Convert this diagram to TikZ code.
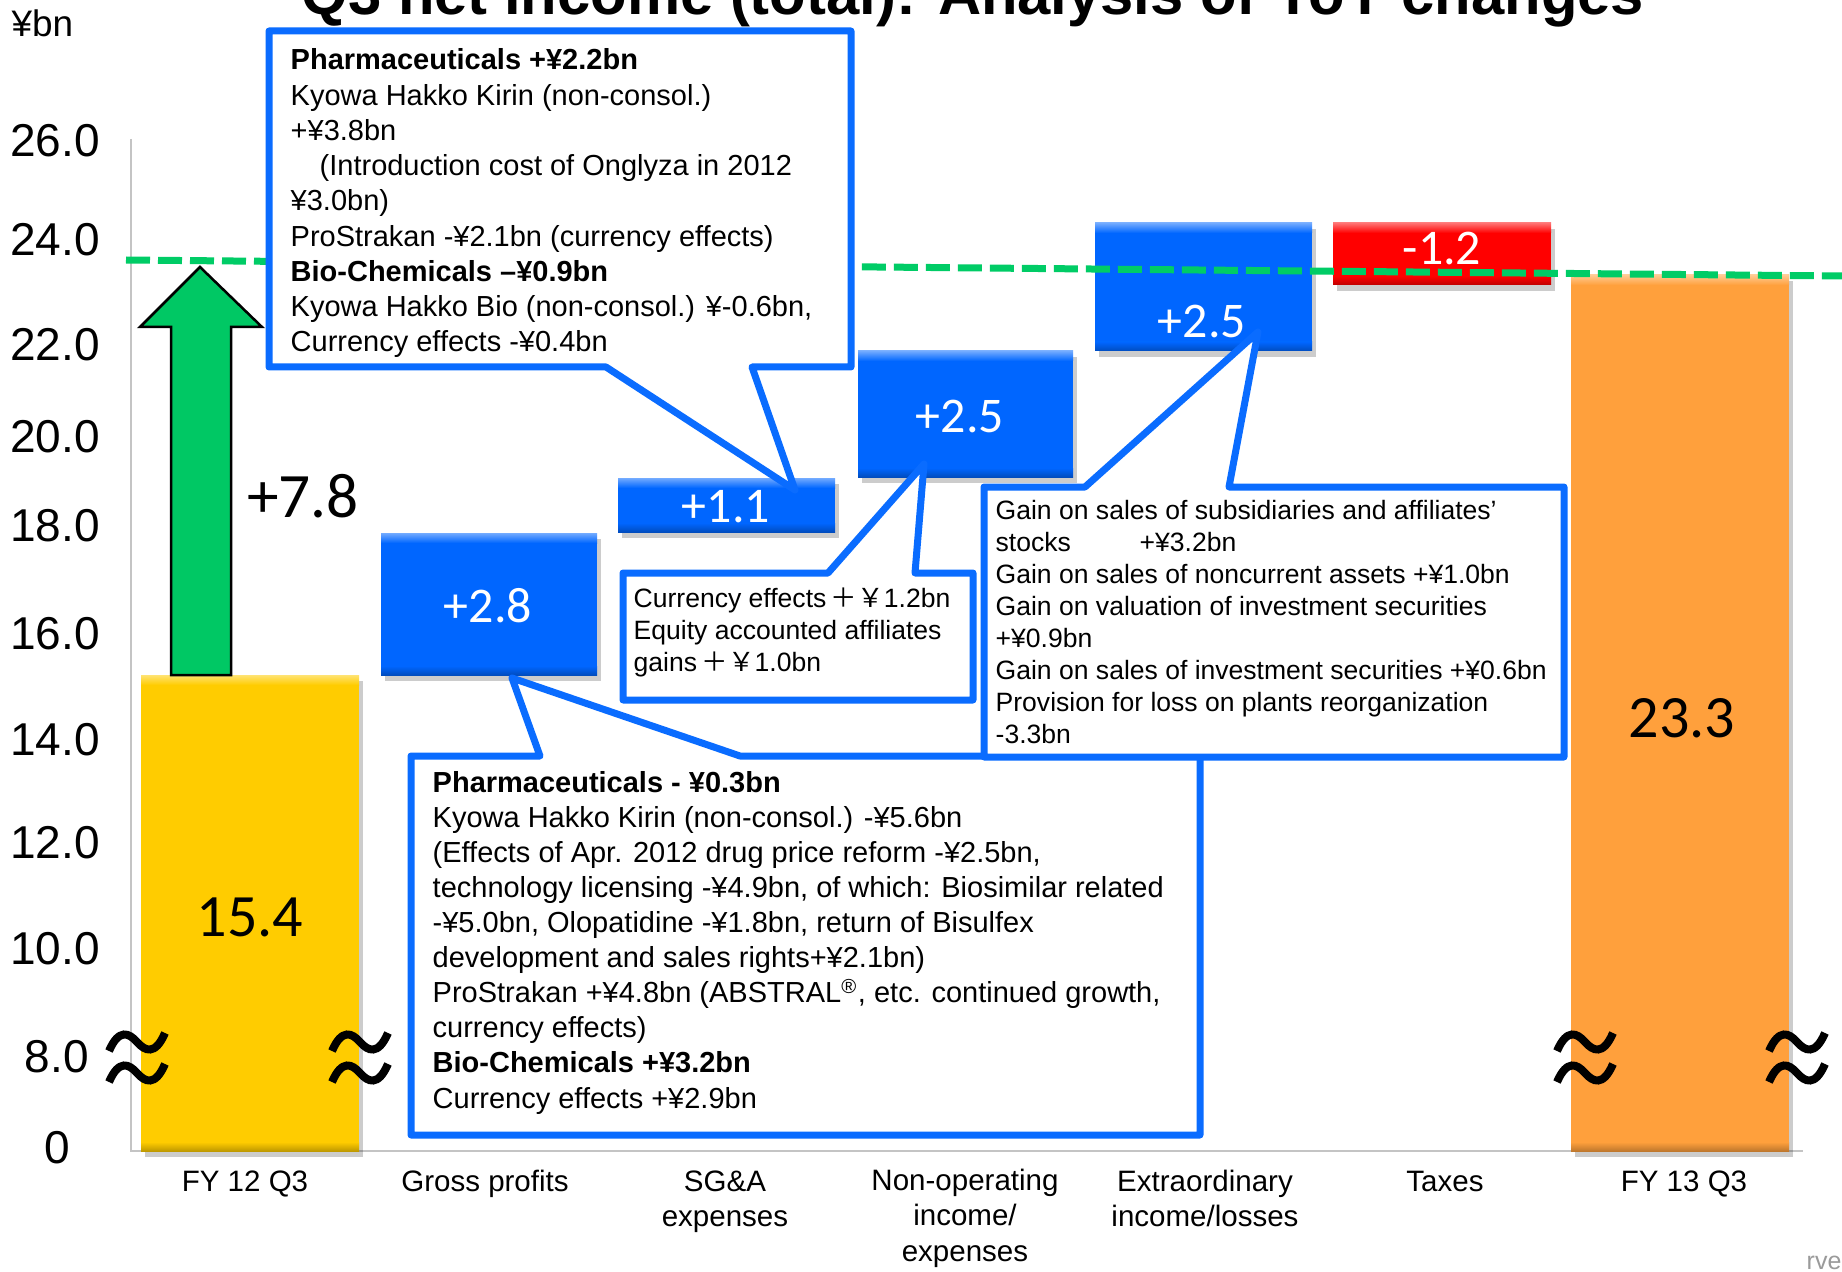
\documentclass[tikz,border=0pt]{standalone}
\usepackage{fontspec}
\setmainfont{Liberation Sans}
\newfontfamily\calfont{Carlito}
\newfontfamily\cjkfont{Noto Sans CJK JP}
\definecolor{barblue}{HTML}{0066FF}
\definecolor{lineblue}{HTML}{0A6CFF}
\definecolor{baryellow}{HTML}{FFCC00}
\definecolor{barorange}{HTML}{FFA03C}
\definecolor{barred}{HTML}{FF0000}
\definecolor{arrowgreen}{HTML}{00C864}
\definecolor{dashgreen}{HTML}{00CC66}
\definecolor{axisgray}{HTML}{C4C4C4}
\definecolor{footgray}{HTML}{9A9A9A}

\newcommand{\bevbar}[5]{%
  \fill[black,opacity=0.2] (#1+4,#2+6) rectangle (#3+4,#4+6);
  \fill[#5] (#1,#2) rectangle (#3,#4);
  \shade[top color=#5!55!white, bottom color=#5] (#1,#2) rectangle (#3,#2+10);
  \shade[top color=#5, bottom color=#5!75!black] (#1,#4-9) rectangle (#3,#4);
}
\newcommand{\brkmark}[2]{%
  \draw[tildeline] (#1-28,#2+9) .. controls (#1-18,#2-14) and (#1-8,#2-9) .. (#1,#2)
        .. controls (#1+8,#2+9) and (#1+18,#2+14) .. (#1+28,#2-9);
}
\newcommand{\yen}{\symbol{"00A5}}

\tikzset{
  titlestyle/.style={font=\fontsize{17}{20}\selectfont\bfseries, anchor=base, inner sep=0},
  unitlab/.style={font=\fontsize{10.5}{12}\selectfont, anchor=base west, inner sep=0},
  ylab/.style={font=\fontsize{13.1}{15}\selectfont, anchor=center, inner sep=0},
  catlab/.style={font=\fontsize{8.4}{9.96}\selectfont, align=center, anchor=base, inner sep=0},
  barlab/.style={font=\calfont\fontsize{14.2}{16}\selectfont, text=white, anchor=base, inner sep=0},
  biglab/.style={font=\calfont\fontsize{17.1}{19}\selectfont, anchor=base, inner sep=0},
  axisline/.style={draw=axisgray, line width=0.2mm},
  dashline/.style={draw=dashgreen, line width=0.7mm, dash pattern=on 2.4mm off 0.8mm},
  arrowshape/.style={fill=arrowgreen, draw=black, line width=0.25mm, line join=miter},
  tildeline/.style={draw=black, line width=0.8mm},
  cbox/.style={draw=lineblue, line width=0.7mm, fill=white, line join=round},
  ctext/.style={font=\fontsize{8.25}{10.03}\selectfont, align=left, anchor=base west, inner sep=0},
  gtext/.style={font=\fontsize{8.25}{9.96}\selectfont, align=left, anchor=base west, inner sep=0},
  stext/.style={font=\fontsize{7.55}{9.1}\selectfont, align=left, anchor=base west, inner sep=0},
  foot/.style={font=\fontsize{7.1}{8}\selectfont, text=footgray, anchor=base west, inner sep=0}
}

\begin{document}
\begin{tikzpicture}[x=0.1mm, y=-0.1mm]
\useasboundingbox (0,0) rectangle (1842,1272);
\clip (0,0) rectangle (1842,1272);
\fill[white] (0,0) rectangle (1842,1272);

% title and unit
\node[titlestyle] (title) at (973,15) {Q3 net income (total): Analysis of YoY changes};
\node[unitlab] (unit) at (11,37) {\yen bn};

% y-axis labels
\node[ylab] (y26) at (55,141) {26.0};
\node[ylab] (y24) at (55,240) {24.0};
\node[ylab] (y22) at (55,345) {22.0};
\node[ylab] (y20) at (55,437) {20.0};
\node[ylab] (y18) at (55,526) {18.0};
\node[ylab] (y16) at (55,634) {16.0};
\node[ylab] (y14) at (55,740) {14.0};
\node[ylab] (y12) at (55,843) {12.0};
\node[ylab] (y10) at (55,949) {10.0};
\node[ylab] (y8) at (57,1057) {8.0};
\node[ylab] (y0) at (57,1148) {0};

% axes
\coordinate (axtop) at (131,139);
\coordinate (axorigin) at (131,1151);
\coordinate (axright) at (1803,1151);
\draw[axisline] (axtop) -- (axorigin) -- (axright);

% bars
\bevbar{141}{675}{359}{1151}{baryellow}
\bevbar{381}{533}{597}{675}{barblue}
\bevbar{618}{478}{835}{532}{barblue}
\bevbar{858}{351}{1073}{477}{barblue}
\bevbar{1095}{223}{1312}{351}{barblue}
\bevbar{1333}{223}{1551}{285}{barred}
\bevbar{1571}{275}{1789}{1151}{barorange}

% green arrow
\draw[arrowshape] (171,675) -- (171,327) -- (140,327) -- (200,267) -- (262,327)
      -- (231,327) -- (231,675) -- cycle;

% dashed reference line
\coordinate (dashA) at (126,260);
\coordinate (dashB) at (1842,276);
\draw[dashline] (dashA) -- (dashB);

% break marks
\brkmark{137}{1042}
\brkmark{137}{1073}
\brkmark{360}{1042}
\brkmark{360}{1073}
\brkmark{1585}{1042}
\brkmark{1585}{1073}
\brkmark{1797}{1042}
\brkmark{1797}{1073}

% bar labels
\node[biglab] (v154) at (250,936) {15.4};
\node[biglab] (v233) at (1682,737) {23.3};
\node[biglab, font=\calfont\fontsize{18}{20}\selectfont] (v78) at (303,517) {+7.8};
\node[barlab] (v28) at (488,622) {+2.8};
\node[barlab] (v11) at (726,522) {+1.1};
\node[barlab] (v25a) at (960,432) {+2.5};
\node[barlab] (v25b) at (1202,338) {+2.5};
\node[barlab] (v12) at (1442,265) {-1.2};

% callout: gross profits (anchor = baseline of last line)
\draw[cbox] (411,756) -- (540,756) -- (512,678) -- (740,756) -- (1200,756)
      -- (1200,1135) -- (411,1135) -- cycle;
\node[gtext] (gpText) at (432,1108) {\textbf{Pharmaceuticals - \yen 0.3bn}\\
Kyowa Hakko Kirin (non-consol.) -\yen 5.6bn\\
(Effects of Apr. 2012 drug price reform -\yen 2.5bn,\\
technology licensing -\yen 4.9bn, of which: Biosimilar related\\
-\yen 5.0bn, Olopatidine -\yen 1.8bn, return of Bisulfex\\
development and sales rights+\yen 2.1bn)\\
ProStrakan +\yen 4.8bn (ABSTRAL\textsuperscript{®}, etc. continued growth,\\
currency effects)\\
\textbf{Bio-Chemicals +\yen 3.2bn}\\
Currency effects +\yen 2.9bn};

% callout: extraordinary
\draw[cbox] (984,487) -- (1085,487) -- (1258,332) -- (1229,487) -- (1564,487)
      -- (1564,757) -- (984,757) -- cycle;
\node[stext] (exText) at (995,743) {Gain on sales of subsidiaries and affiliates’\\
\makebox[14.4mm][l]{stocks}+\yen 3.2bn\\
Gain on sales of noncurrent assets +\yen 1.0bn\\
Gain on valuation of investment securities\\
+\yen 0.9bn\\
Gain on sales of investment securities +\yen 0.6bn\\
Provision for loss on plants reorganization\\
-3.3bn};

% callout: non-operating
\draw[cbox] (623,573) -- (828,573) -- (924,464) -- (915,573) -- (973,573)
      -- (973,700) -- (623,700) -- cycle;
\node[stext] (noText) at (633,671) {Currency effects\,{\cjkfont ＋￥}1.2bn\\
Equity accounted affiliates\\
gains\,{\cjkfont ＋￥}1.0bn};

% callout: SG&A (top)
\draw[cbox] (269,31) -- (851,31) -- (851,367) -- (752,367) -- (795,490)
      -- (606,367) -- (269,367) -- cycle;
\node[ctext] (sgText) at (290,352) {\textbf{Pharmaceuticals +\yen 2.2bn}\\
Kyowa Hakko Kirin (non-consol.)\\
+\yen 3.8bn\\
\hspace*{2.9mm}(Introduction cost of Onglyza in 2012\\
\yen 3.0bn)\\
ProStrakan -\yen 2.1bn (currency effects)\\
\textbf{Bio-Chemicals –\yen 0.9bn}\\
Kyowa Hakko Bio (non-consol.) \yen -0.6bn,\\
Currency effects -\yen 0.4bn};

% category labels (anchor = baseline of last line)
\node[catlab] (c1) at (245,1191) {FY 12 Q3};
\node[catlab] (c2) at (485,1191) {Gross profits};
\node[catlab] (c3) at (725,1226) {SG\&A\\expenses};
\node[catlab] (c4) at (965,1261) {Non-operating\\income/\\expenses};
\node[catlab] (c5) at (1205,1226) {Extraordinary\\income/losses};
\node[catlab] (c6) at (1445,1191) {Taxes};
\node[catlab] (c7) at (1684,1191) {FY 13 Q3};

% footer fragment
\node[foot] (footer) at (1806,1269) {rve};
\end{tikzpicture}
\end{document}
